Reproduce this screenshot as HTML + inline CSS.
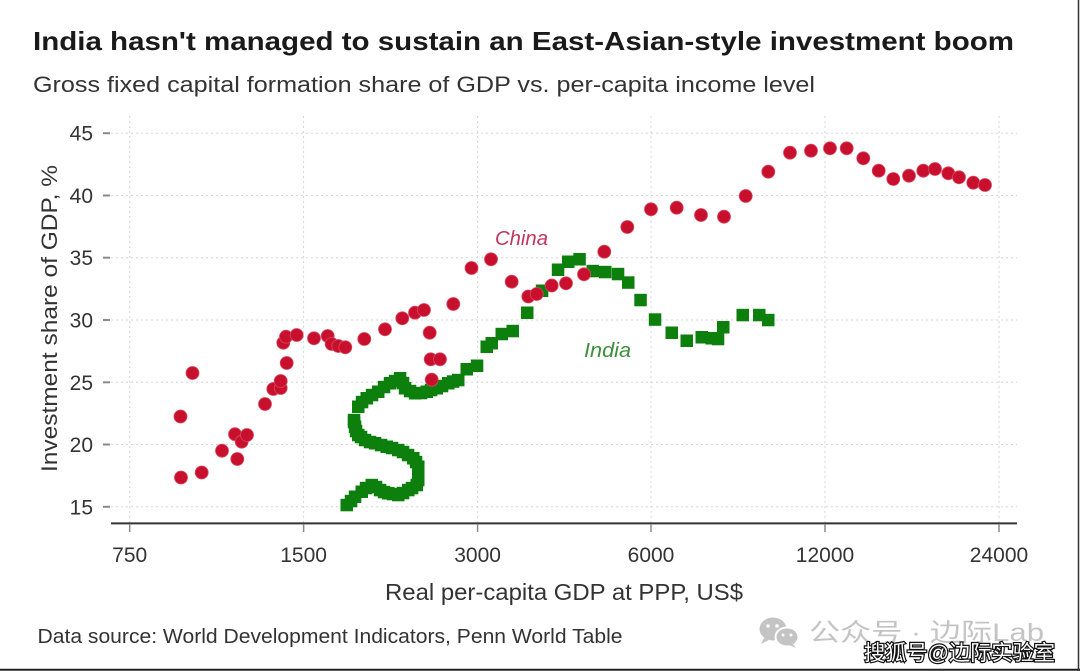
<!DOCTYPE html>
<html>
<head>
<meta charset="utf-8">
<style>
  html, body { margin: 0; padding: 0; background: #ffffff; }
  body { width: 1080px; height: 671px; overflow: hidden; }
  svg { display: block; }
  text { font-family: "Liberation Sans", "Noto Sans CJK SC", sans-serif; }
</style>
</head>
<body>
<svg width="1080" height="671" viewBox="0 0 1080 671" xmlns="http://www.w3.org/2000/svg">
  <rect x="0" y="0" width="1080" height="671" fill="#ffffff"/>

  <!-- Title & subtitle -->
  <text x="33" y="50" font-size="26" font-weight="bold" fill="#1a1a1a" textLength="981" lengthAdjust="spacingAndGlyphs">India hasn't managed to sustain an East-Asian-style investment boom</text>
  <text x="33" y="92" font-size="22" fill="#333333" textLength="782" lengthAdjust="spacingAndGlyphs">Gross fixed capital formation share of GDP vs. per-capita income level</text>

  <!-- Gridlines -->
  <g stroke="#d6d6d6" stroke-width="1" stroke-dasharray="2,3" fill="none">
    <line x1="111" y1="133.2" x2="1017" y2="133.2"/>
    <line x1="111" y1="195.5" x2="1017" y2="195.5"/>
    <line x1="111" y1="257.7" x2="1017" y2="257.7"/>
    <line x1="111" y1="320" x2="1017" y2="320"/>
    <line x1="111" y1="382.3" x2="1017" y2="382.3"/>
    <line x1="111" y1="444.5" x2="1017" y2="444.5"/>
    <line x1="111" y1="506.8" x2="1017" y2="506.8"/>
    <line x1="129.7" y1="116" x2="129.7" y2="523"/>
    <line x1="303.6" y1="116" x2="303.6" y2="523"/>
    <line x1="477.6" y1="116" x2="477.6" y2="523"/>
    <line x1="651" y1="116" x2="651" y2="523"/>
    <line x1="825" y1="116" x2="825" y2="523"/>
    <line x1="999" y1="116" x2="999" y2="523"/>
  </g>

  <!-- Y ticks -->
  <g stroke="#8a8a8a" stroke-width="2">
    <line x1="103" y1="133.2" x2="110" y2="133.2"/>
    <line x1="103" y1="195.5" x2="110" y2="195.5"/>
    <line x1="103" y1="257.7" x2="110" y2="257.7"/>
    <line x1="103" y1="320" x2="110" y2="320"/>
    <line x1="103" y1="382.3" x2="110" y2="382.3"/>
    <line x1="103" y1="444.5" x2="110" y2="444.5"/>
    <line x1="103" y1="506.8" x2="110" y2="506.8"/>
  </g>
  <g font-size="21" fill="#333333" text-anchor="end">
    <text x="93" y="140.7">45</text>
    <text x="93" y="203">40</text>
    <text x="93" y="265.2">35</text>
    <text x="93" y="327.5">30</text>
    <text x="93" y="389.8">25</text>
    <text x="93" y="452">20</text>
    <text x="93" y="514.3">15</text>
  </g>

  <!-- X axis -->
  <line x1="111" y1="523.4" x2="1017" y2="523.4" stroke="#333333" stroke-width="2"/>
  <g stroke="#8a8a8a" stroke-width="1.5">
    <line x1="129.7" y1="524" x2="129.7" y2="532"/>
    <line x1="303.6" y1="524" x2="303.6" y2="532"/>
    <line x1="477.6" y1="524" x2="477.6" y2="532"/>
    <line x1="651" y1="524" x2="651" y2="532"/>
    <line x1="825" y1="524" x2="825" y2="532"/>
    <line x1="999" y1="524" x2="999" y2="532"/>
  </g>
  <g font-size="21" fill="#333333" text-anchor="middle">
    <text x="129.7" y="562">750</text>
    <text x="303.6" y="562">1500</text>
    <text x="477.6" y="562">3000</text>
    <text x="651" y="562">6000</text>
    <text x="825" y="562">12000</text>
    <text x="999" y="562">24000</text>
  </g>

  <!-- Axis titles -->
  <text x="385" y="600" font-size="23" fill="#333333" textLength="358" lengthAdjust="spacingAndGlyphs">Real per-capita GDP at PPP, US$</text>
  <text transform="translate(57,472) rotate(-90)" x="0" y="0" font-size="22" fill="#333333" textLength="307" lengthAdjust="spacingAndGlyphs">Investment share of GDP, %</text>

  <!-- India (squares) -->
  <g fill="#0c7f0c">
    <rect x="340.5" y="498.8" width="12.5" height="12.5"/>
    <rect x="344.8" y="494.8" width="12.5" height="12.5"/>
    <rect x="348.8" y="490.5" width="12.5" height="12.5"/>
    <rect x="355.5" y="485.5" width="12.5" height="12.5"/>
    <rect x="359.8" y="481.8" width="12.5" height="12.5"/>
    <rect x="365.5" y="478.8" width="12.5" height="12.5"/>
    <rect x="369.8" y="480.8" width="12.5" height="12.5"/>
    <rect x="373.8" y="483.8" width="12.5" height="12.5"/>
    <rect x="377.8" y="485.8" width="12.5" height="12.5"/>
    <rect x="382" y="487" width="12.5" height="12.5"/>
    <rect x="386.8" y="487.8" width="12.5" height="12.5"/>
    <rect x="392" y="488.8" width="12.5" height="12.5"/>
    <rect x="396.8" y="486.8" width="12.5" height="12.5"/>
    <rect x="402" y="483.8" width="12.5" height="12.5"/>
    <rect x="405.8" y="481.8" width="12.5" height="12.5"/>
    <rect x="410.5" y="478.8" width="12.5" height="12.5"/>
    <rect x="412" y="473.8" width="12.5" height="12.5"/>
    <rect x="412" y="468.8" width="12.5" height="12.5"/>
    <rect x="412" y="463.8" width="12.5" height="12.5"/>
    <rect x="412" y="460.5" width="12.5" height="12.5"/>
    <rect x="409.8" y="455.8" width="12.5" height="12.5"/>
    <rect x="407" y="452" width="12.5" height="12.5"/>
    <rect x="401.8" y="448.8" width="12.5" height="12.5"/>
    <rect x="396.8" y="445.8" width="12.5" height="12.5"/>
    <rect x="392" y="443.8" width="12.5" height="12.5"/>
    <rect x="385.8" y="441.8" width="12.5" height="12.5"/>
    <rect x="380.5" y="440.5" width="12.5" height="12.5"/>
    <rect x="374.8" y="438.8" width="12.5" height="12.5"/>
    <rect x="368.8" y="437" width="12.5" height="12.5"/>
    <rect x="363.8" y="435.8" width="12.5" height="12.5"/>
    <rect x="358.8" y="433.8" width="12.5" height="12.5"/>
    <rect x="354.8" y="430.8" width="12.5" height="12.5"/>
    <rect x="352" y="428.8" width="12.5" height="12.5"/>
    <rect x="349.8" y="424.8" width="12.5" height="12.5"/>
    <rect x="348.8" y="420.5" width="12.5" height="12.5"/>
    <rect x="347.8" y="415.8" width="12.5" height="12.5"/>
    <rect x="347.8" y="413.8" width="12.5" height="12.5"/>
    <rect x="352" y="400.5" width="12.5" height="12.5"/>
    <rect x="355.8" y="395.8" width="12.5" height="12.5"/>
    <rect x="360.5" y="392" width="12.5" height="12.5"/>
    <rect x="365.8" y="388.8" width="12.5" height="12.5"/>
    <rect x="372" y="385.5" width="12.5" height="12.5"/>
    <rect x="377.8" y="380.8" width="12.5" height="12.5"/>
    <rect x="383.8" y="377" width="12.5" height="12.5"/>
    <rect x="388.8" y="374.8" width="12.5" height="12.5"/>
    <rect x="393.8" y="372" width="12.5" height="12.5"/>
    <rect x="396.8" y="376.8" width="12.5" height="12.5"/>
    <rect x="398.8" y="382" width="12.5" height="12.5"/>
    <rect x="403.8" y="384.8" width="12.5" height="12.5"/>
    <rect x="408.8" y="387" width="12.5" height="12.5"/>
    <rect x="414.8" y="386.8" width="12.5" height="12.5"/>
    <rect x="420.5" y="385.5" width="12.5" height="12.5"/>
    <rect x="424.8" y="383.8" width="12.5" height="12.5"/>
    <rect x="430.5" y="382" width="12.5" height="12.5"/>
    <rect x="435.8" y="379.8" width="12.5" height="12.5"/>
    <rect x="442" y="377" width="12.5" height="12.5"/>
    <rect x="446.8" y="375.3" width="12.5" height="12.5"/>
    <rect x="452" y="373.8" width="12.5" height="12.5"/>
    <rect x="460.5" y="363" width="12.5" height="12.5"/>
    <rect x="470.8" y="359.5" width="12.5" height="12.5"/>
    <rect x="480.5" y="340.5" width="12.5" height="12.5"/>
    <rect x="485.5" y="337" width="12.5" height="12.5"/>
    <rect x="495.5" y="327.8" width="12.5" height="12.5"/>
    <rect x="506.5" y="324.8" width="12.5" height="12.5"/>
    <rect x="521" y="306.5" width="12.5" height="12.5"/>
    <rect x="535.8" y="284.5" width="12.5" height="12.5"/>
    <rect x="551.8" y="263.5" width="12.5" height="12.5"/>
    <rect x="562" y="255.5" width="12.5" height="12.5"/>
    <rect x="573.3" y="253" width="12.5" height="12.5"/>
    <rect x="586.5" y="264.8" width="12.5" height="12.5"/>
    <rect x="599" y="265.8" width="12.5" height="12.5"/>
    <rect x="611.8" y="267.8" width="12.5" height="12.5"/>
    <rect x="622" y="276.3" width="12.5" height="12.5"/>
    <rect x="634.3" y="293.8" width="12.5" height="12.5"/>
    <rect x="648.8" y="313.3" width="12.5" height="12.5"/>
    <rect x="665.5" y="326.5" width="12.5" height="12.5"/>
    <rect x="680.5" y="334.5" width="12.5" height="12.5"/>
    <rect x="695.5" y="331" width="12.5" height="12.5"/>
    <rect x="705.5" y="332" width="12.5" height="12.5"/>
    <rect x="711.8" y="332.8" width="12.5" height="12.5"/>
    <rect x="717" y="321" width="12.5" height="12.5"/>
    <rect x="736.5" y="308.8" width="12.5" height="12.5"/>
    <rect x="753" y="308.8" width="12.5" height="12.5"/>
    <rect x="762" y="313.8" width="12.5" height="12.5"/>
  </g>

  <!-- China (circles) -->
  <g fill="#c8102e" stroke="#d8485e" stroke-width="0.8">
    <circle cx="180.5" cy="416.5" r="6.5"/>
    <circle cx="192.5" cy="373" r="6.5"/>
    <circle cx="181" cy="477.5" r="6.5"/>
    <circle cx="201.7" cy="472.5" r="6.5"/>
    <circle cx="222" cy="450.7" r="6.5"/>
    <circle cx="237.3" cy="459" r="6.5"/>
    <circle cx="235" cy="434.2" r="6.5"/>
    <circle cx="241.7" cy="441.7" r="6.5"/>
    <circle cx="247" cy="435" r="6.5"/>
    <circle cx="265" cy="404" r="6.5"/>
    <circle cx="273.3" cy="389" r="6.5"/>
    <circle cx="280.7" cy="388" r="6.5"/>
    <circle cx="280.7" cy="381" r="6.5"/>
    <circle cx="286.7" cy="363" r="6.5"/>
    <circle cx="283.3" cy="342.7" r="6.5"/>
    <circle cx="286" cy="336.7" r="6.5"/>
    <circle cx="296.7" cy="335" r="6.5"/>
    <circle cx="314" cy="338.3" r="6.5"/>
    <circle cx="327.7" cy="336" r="6.5"/>
    <circle cx="331.7" cy="344" r="6.5"/>
    <circle cx="338.3" cy="346" r="6.5"/>
    <circle cx="345.3" cy="347.3" r="6.5"/>
    <circle cx="364.3" cy="339" r="6.5"/>
    <circle cx="385" cy="329.3" r="6.5"/>
    <circle cx="402.3" cy="318.3" r="6.5"/>
    <circle cx="415" cy="312.7" r="6.5"/>
    <circle cx="424" cy="310" r="6.5"/>
    <circle cx="429.7" cy="332.7" r="6.5"/>
    <circle cx="430.7" cy="359.3" r="6.5"/>
    <circle cx="440" cy="359.3" r="6.5"/>
    <circle cx="431.7" cy="379.7" r="6.5"/>
    <circle cx="453.3" cy="304" r="6.5"/>
    <circle cx="471.5" cy="268" r="6.5"/>
    <circle cx="491" cy="259.3" r="6.5"/>
    <circle cx="511.7" cy="281.7" r="6.5"/>
    <circle cx="528.3" cy="296.5" r="6.5"/>
    <circle cx="536.7" cy="294" r="6.5"/>
    <circle cx="551.7" cy="285.5" r="6.5"/>
    <circle cx="566" cy="283.3" r="6.5"/>
    <circle cx="584" cy="274.3" r="6.5"/>
    <circle cx="604.3" cy="251.7" r="6.5"/>
    <circle cx="627.3" cy="227" r="6.5"/>
    <circle cx="651" cy="209.3" r="6.5"/>
    <circle cx="676.7" cy="207.7" r="6.5"/>
    <circle cx="701" cy="215" r="6.5"/>
    <circle cx="724" cy="216.7" r="6.5"/>
    <circle cx="745.7" cy="196" r="6.5"/>
    <circle cx="768.3" cy="171.7" r="6.5"/>
    <circle cx="790" cy="152.7" r="6.5"/>
    <circle cx="811" cy="150.7" r="6.5"/>
    <circle cx="830" cy="148.3" r="6.5"/>
    <circle cx="846.7" cy="148.3" r="6.5"/>
    <circle cx="863.3" cy="158.3" r="6.5"/>
    <circle cx="878.7" cy="170.7" r="6.5"/>
    <circle cx="893.3" cy="179" r="6.5"/>
    <circle cx="909" cy="175.7" r="6.5"/>
    <circle cx="923.3" cy="170.7" r="6.5"/>
    <circle cx="935" cy="169" r="6.5"/>
    <circle cx="948.3" cy="173.3" r="6.5"/>
    <circle cx="959" cy="177.3" r="6.5"/>
    <circle cx="973.3" cy="182.7" r="6.5"/>
    <circle cx="985" cy="185" r="6.5"/>
  </g>

  <!-- Series labels -->
  <text x="495" y="245" font-size="20" font-style="italic" fill="#c0365c" textLength="53" lengthAdjust="spacingAndGlyphs">China</text>
  <text x="584" y="357" font-size="20" font-style="italic" fill="#3c8f3c" textLength="47" lengthAdjust="spacingAndGlyphs">India</text>

  <!-- Source -->
  <text x="37.5" y="643" font-size="20.5" fill="#333333" textLength="585" lengthAdjust="spacingAndGlyphs">Data source: World Development Indicators, Penn World Table</text>

  <!-- Watermark: WeChat icon -->
  <g fill="#c4c4c4">
    <ellipse cx="773" cy="629" rx="13.5" ry="11.5"/>
    <path d="M764,638 L761,644 L769,640 Z"/>
    <ellipse cx="787" cy="637" rx="11.5" ry="9.5" stroke="#ffffff" stroke-width="2"/>
    <path d="M793,644 L796,648 L789,645 Z"/>
  </g>
  <g fill="#ffffff">
    <circle cx="768" cy="626" r="1.8"/>
    <circle cx="777" cy="626" r="1.8"/>
    <circle cx="783" cy="635" r="1.5"/>
    <circle cx="791" cy="635" r="1.5"/>
  </g>
  <text x="809" y="641" font-size="25" fill="#c4c4c4" font-family="'Liberation Sans','Noto Sans CJK SC',sans-serif" textLength="235" lengthAdjust="spacingAndGlyphs">公众号 · 边际Lab</text>
  <text x="864" y="660" font-size="21" fill="#ffffff" stroke="#111111" stroke-width="2.4" paint-order="stroke" font-family="'Noto Sans CJK SC',sans-serif" textLength="191" lengthAdjust="spacingAndGlyphs">搜狐号@边际实验室</text>

  <!-- Frame edges -->
  <line x1="0" y1="669.8" x2="1080" y2="669.8" stroke="#222222" stroke-width="2"/>
  <line x1="1078.5" y1="0" x2="1078.5" y2="671" stroke="#333333" stroke-width="1.5"/>
</svg>
</body>
</html>
